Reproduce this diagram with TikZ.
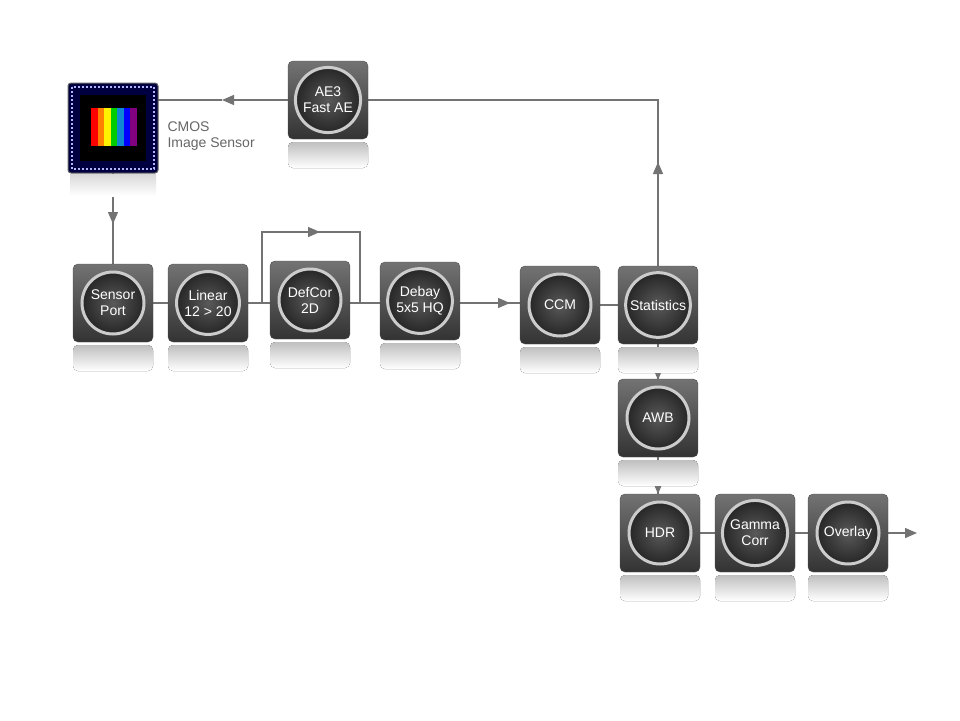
\documentclass[tikz,border=0pt]{standalone}
\usepackage{fontspec}
\setmainfont{Liberation Sans}
\usetikzlibrary{arrows.meta,fadings}
\begin{document}
\begin{tikzpicture}[x=1pt,y=-1pt,
  blk/.style={draw=black!70,rounded corners=5pt,minimum width=80pt,minimum height=78pt,inner sep=0pt,
     top color=black!55,bottom color=black!80},
  btn/.style={circle,minimum size=62pt,draw=black!20,line width=3pt,inner color=black!65,outer color=black!85,
     text=white,align=center,font=\fontsize{14}{16}\selectfont},
  ln/.style={draw=black!55,line width=1.3pt},
  arr/.style={-{Triangle[length=12pt,width=10pt]}},
  refl/.style={rounded corners=5pt,top color=black!25,bottom color=white,draw=none}]
\useasboundingbox (0,0) rectangle (960,720);
\newcommand{\myblk}[4]{%
  \fill[refl] (#2-40,#3+42) rectangle (#2+40,#3+68);
  \node[blk] (#1) at (#2,#3) {};
  \node[btn] (#1b) at (#2,#3) {#4};}
% connectors first (under blocks)
\coordinate (ccmin) at (520,303);
\coordinate (ae3r) at (658,100);
\coordinate (loopa) at (262,303);
\coordinate (loopb) at (262,232);
\coordinate (loopc) at (360,232);
\coordinate (loopd) at (360,303);
\coordinate (outend) at (917,533);
\draw[ln] (113,303) -- (420,303);
\draw[ln] (loopa) -- (loopb) -- (loopc) -- (loopd);
\draw[ln,arr] (loopb) -- (320,232);
\draw[ln] (420,303) -- (ccmin);
\draw[ln,arr] (460,303) -- (510,303);
\draw[ln] (560,305) -- (658,305);
\draw[ln] (328,100) -- (ae3r) -- (658,305);
\draw[ln,arr] (658,268) -- (658,162);
\draw[ln,arr] (288,100) -- (222,100);
\draw[ln] (222,100) -- (113,100);
\draw[ln] (113,128) -- (113,303);
\draw[ln,arr] (113,172) -- (113,224);
\draw[ln] (658,305) -- (658,533);
\draw[ln,arr] (658,344) -- (658,380);
\draw[ln,arr] (658,456) -- (658,494);
\draw[ln] (660,533) -- (848,533);
\draw[ln,arr] (888,533) -- (outend);
% sensor chip
\fill[top color=black!15,bottom color=white] (70,174) rectangle (156,196);
\node[draw=black!60,line width=1pt,fill=blue!25!black,rounded corners=3pt,minimum width=90pt,minimum height=90pt] (chip) at (113,128) {};
\draw[white!70!blue,line width=1.5pt,dash pattern=on 2pt off 2pt] (72,87) rectangle (154,169);
\fill[black] (80,95) rectangle (146,161);
\foreach \c [count=\i] in {red,orange,yellow,green!80!black,cyan!70!blue,blue,violet}
  \fill[\c] (91+\i*6.5-6.5,108) rectangle (91+\i*6.5,146);
\node[anchor=north west,align=left,text=black!60,font=\fontsize{14}{16}\selectfont] (cmos) at (164,118) {CMOS\\Image Sensor};
% blocks
\myblk{ae3}{328}{100}{AE3\\Fast AE}
\myblk{sp}{113}{303}{Sensor\\Port}
\myblk{lin}{208}{303}{Linear\\12 > 20}
\myblk{dc}{310}{300}{DefCor\\2D}
\myblk{deb}{420}{301}{Debay\\5x5 HQ}
\myblk{ccm}{560}{305}{CCM}
\myblk{stat}{658}{305}{Statistics}
\myblk{awb}{658}{418}{AWB}
\myblk{hdr}{660}{533}{HDR}
\myblk{gam}{755}{533}{Gamma\\Corr}
\myblk{ovl}{848}{533}{Overlay}
\end{tikzpicture}
\end{document}
